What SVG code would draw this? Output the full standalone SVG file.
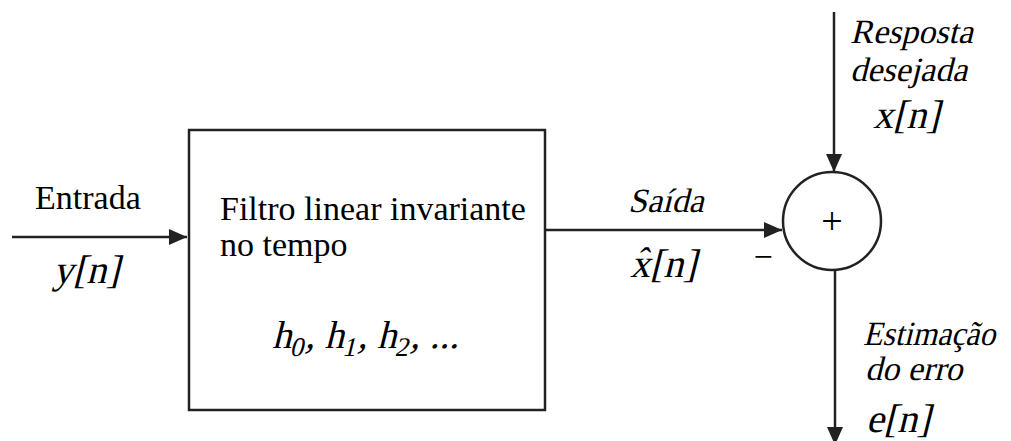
<svg xmlns="http://www.w3.org/2000/svg" width="1011" height="441" viewBox="0 0 1011 441">
<style>
.ln{stroke:#222;stroke-width:2.5;fill:none}
text{font-family:"Liberation Serif","Times New Roman",serif;fill:#000}
.m{font-size:34px}
.v{font-size:40px}
</style>
<defs>
<marker id="ah" viewBox="0 0 18 16" refX="18" refY="8" markerWidth="18" markerHeight="16" markerUnits="userSpaceOnUse" orient="auto">
<path d="M0,0 L18,8 L0,16 Z" fill="#222"/>
</marker>
</defs>
<rect width="1011" height="441" fill="#fff"/>
<g id="connectors">
<line class="ln" x1="12" y1="237" x2="187" y2="237" marker-end="url(#ah)"/>
<line class="ln" x1="545" y1="230" x2="782" y2="230" marker-end="url(#ah)"/>
<line class="ln" x1="834" y1="12" x2="834" y2="172" marker-end="url(#ah)"/>
<line class="ln" x1="835" y1="270" x2="835" y2="445" marker-end="url(#ah)"/>
</g>
<g id="filter">
<rect class="ln" x="189" y="130" width="356" height="280"/>
<text class="m" x="220" y="220">Filtro linear invariante</text>
<text class="m" x="220" y="256">no tempo</text>
<text transform="translate(272,348) skewX(-14)" x="0" y="0" font-size="39px">h<tspan font-size="27px" dy="8">0</tspan><tspan dy="-8">, h</tspan><tspan font-size="27px" dy="8">1</tspan><tspan dy="-8">, h</tspan><tspan font-size="27px" dy="8">2</tspan><tspan dy="-8">, ...</tspan></text>
</g>
<g id="sum">
<circle class="ln" cx="832" cy="221" r="49"/>
<text x="832" y="234" font-size="38px" text-anchor="middle">+</text>
<text x="763" y="268" font-size="34px" text-anchor="middle">−</text>
</g>
<g id="labels">
<text class="m" x="35" y="209">Entrada</text>
<text class="v" transform="translate(53,283) skewX(-14)">y[n]</text>
<text class="m" transform="translate(628,212) skewX(-14)">Saída</text>
<text class="v" transform="translate(630,277) skewX(-14)">x[n]</text>
<text font-size="34px" text-anchor="middle" transform="translate(641,271) skewX(-14)">ˆ</text>
<text class="m" transform="translate(850,43) skewX(-14)">Resposta</text>
<text class="m" transform="translate(850,81) skewX(-14)">desejada</text>
<text class="v" transform="translate(873,128) skewX(-14)">x[n]</text>
<text class="m" transform="translate(863,345) skewX(-14)" textLength="132" lengthAdjust="spacingAndGlyphs">Estimação</text>
<text class="m" transform="translate(865,380) skewX(-14)">do erro</text>
<text class="v" transform="translate(866,432) skewX(-14)">e[n]</text>
</g>
</svg>
